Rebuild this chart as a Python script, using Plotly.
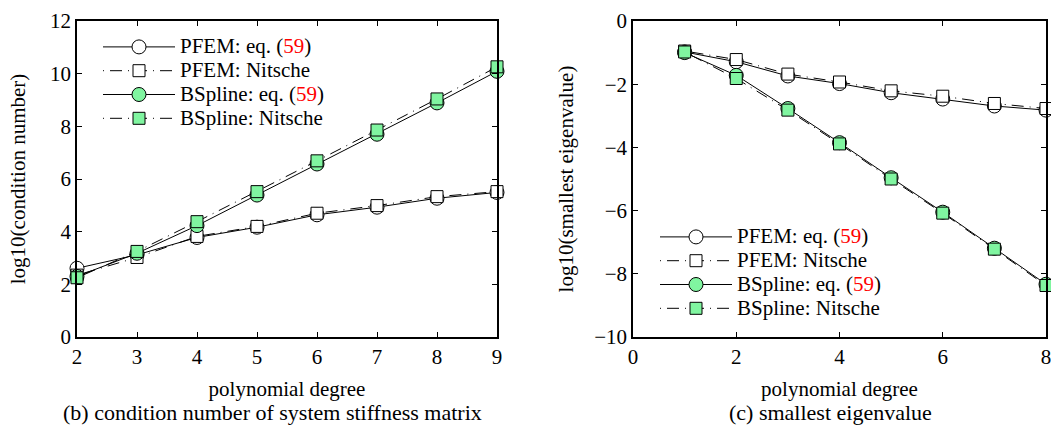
import plotly.graph_objects as go

# ---- data: (b) condition number ----
deg_b = [2, 3, 4, 5, 6, 7, 8, 9]
pfem_eq_b = [2.61, 3.12, 3.78, 4.17, 4.64, 4.93, 5.27, 5.49]
pfem_nit_b = [2.35, 3.02, 3.82, 4.20, 4.70, 4.99, 5.33, 5.52]
bsp_eq_b = [2.30, 3.18, 4.23, 5.39, 6.57, 7.70, 8.89, 10.09]
bsp_nit_b = [2.25, 3.25, 4.38, 5.52, 6.69, 7.86, 9.04, 10.26]

# ---- data: (c) smallest eigenvalue ----
deg_c = [1, 2, 3, 4, 5, 6, 7, 8]
pfem_eq_c = [-0.98, -1.29, -1.74, -1.98, -2.27, -2.47, -2.69, -2.82]
pfem_nit_c = [-0.95, -1.22, -1.68, -1.93, -2.21, -2.38, -2.61, -2.77]
bsp_eq_c = [-1.00, -1.72, -2.77, -3.85, -4.96, -6.05, -7.19, -8.33]
bsp_nit_c = [-0.98, -1.82, -2.82, -3.89, -5.00, -6.08, -7.22, -8.37]

LS = '<span style="font-size:21px">'
names = [LS + 'PFEM: eq. (<span style="color:red">59</span>)</span>',
         LS + 'PFEM: Nitsche</span>',
         LS + 'BSpline: eq. (<span style="color:red">59</span>)</span>',
         LS + 'BSpline: Nitsche</span>']

GREEN = "#80f5a0"
FONT = "Liberation Serif"
DASH = "1px,6px,12px,6px"

styles = [
    dict(symbol="circle", fill="white", dash="solid", size=14),
    dict(symbol="square", fill="white", dash=DASH, size=12),
    dict(symbol="circle", fill=GREEN, dash="solid", size=14),
    dict(symbol="square", fill=GREEN, dash=DASH, size=12),
]

fig = go.Figure()

def add(xs, ys, st, name, xa, ya, leg):
    fig.add_trace(go.Scatter(
        x=xs, y=ys, name=name, mode="lines+markers",
        xaxis=xa, yaxis=ya, legend=leg, cliponaxis=False,
        line=dict(color="black", width=1, dash=st["dash"]),
        marker=dict(symbol=st["symbol"], size=st["size"], color=st["fill"],
                    line=dict(color="black", width=1)),
    ))

for ys, st, nm in zip([pfem_eq_b, pfem_nit_b, bsp_eq_b, bsp_nit_b], styles, names):
    add(deg_b, ys, st, nm, "x", "y", "legend")
for ys, st, nm in zip([pfem_eq_c, pfem_nit_c, bsp_eq_c, bsp_nit_c], styles, names):
    add(deg_c, ys, st, nm, "x2", "y2", "legend2")

ax_common = dict(showline=True, linecolor="black", linewidth=1.5, mirror="ticks",
                 ticks="inside", ticklen=5, tickcolor="black", tickwidth=1,
                 showgrid=False, zeroline=False, automargin=False,
                 ticklabeloverflow="allow",
                 tickfont=dict(family=FONT, size=21, color="black"))

W, H = 1051, 435
def fx(px): return px / W
def fy(py): return (H - py) / H

TF = dict(family=FONT, size=21, color="black")

fig.update_layout(
    width=W, height=H, margin=dict(l=0, r=0, t=0, b=0, autoexpand=False),
    paper_bgcolor="white", plot_bgcolor="white",
    font=dict(family=FONT, size=21, color="black"),
    xaxis=dict(domain=[fx(77), fx(497)], range=[2, 9], dtick=1, anchor="y",
               title=dict(text="polynomial degree", font=TF, standoff=13),
               **ax_common),
    yaxis=dict(domain=[fy(337), fy(21)], range=[0, 12], dtick=2, anchor="x",
               title=dict(text="log10(condition number)", font=TF, standoff=19),
               **ax_common),
    xaxis2=dict(domain=[fx(633), fx(1046)], range=[0, 8], dtick=2, anchor="y2",
                title=dict(text="polynomial degree", font=TF, standoff=13),
                **ax_common),
    yaxis2=dict(domain=[fy(337), fy(21)], range=[-10, 0], dtick=2, anchor="x2",
                title=dict(text="log10(smallest eigenvalue)", font=TF, standoff=15),
                **ax_common),
    legend=dict(x=fx(98), y=fy(30), xanchor="left", yanchor="top",
                bgcolor="rgba(0,0,0,0)", itemwidth=72, tracegroupgap=0,
                font=dict(family=FONT, size=16)),
    legend2=dict(x=fx(655), y=fy(220), xanchor="left", yanchor="top",
                 bgcolor="rgba(0,0,0,0)", itemwidth=72, tracegroupgap=0,
                 font=dict(family=FONT, size=16)),
    showlegend=True,
    annotations=[
        dict(text="(b) condition number of system stiffness matrix", x=fx(272), y=fy(412),
             xref="paper", yref="paper", xanchor="center", yanchor="middle",
             showarrow=False, font=dict(size=22)),
        dict(text="(c) smallest eigenvalue", x=fx(830), y=fy(412),
             xref="paper", yref="paper", xanchor="center", yanchor="middle",
             showarrow=False, font=dict(size=22)),
    ],
)

fig.write_html("out.html", config={"displayModeBar": False},
               post_script="document.body.style.margin='0px';")
